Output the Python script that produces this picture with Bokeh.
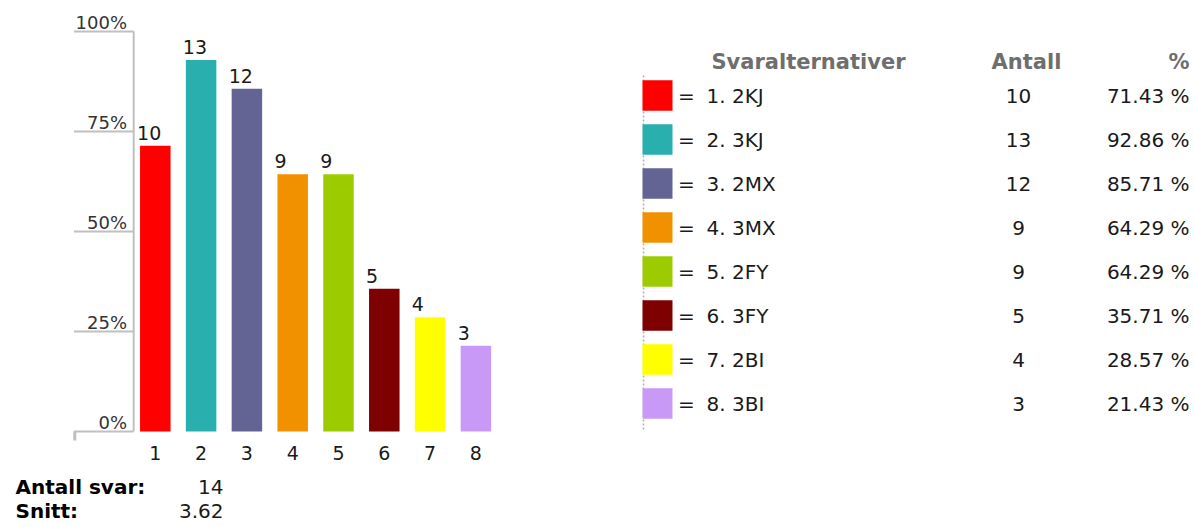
from bokeh.plotting import figure
from bokeh.models import Range1d, ColumnDataSource
from bokeh.embed import file_html
from bokeh.resources import INLINE
from bokeh.core.properties import value

# ---------------- data ----------------
categories = [1, 2, 3, 4, 5, 6, 7, 8]
option_labels = ["1. 2KJ", "2. 3KJ", "3. 2MX", "4. 3MX", "5. 2FY", "6. 3FY", "7. 2BI", "8. 3BI"]
counts = [10, 13, 12, 9, 9, 5, 4, 3]
percents = [71.43, 92.86, 85.71, 64.29, 64.29, 35.71, 28.57, 21.43]
colors = ["#ff0000", "#2aafaf", "#646494", "#f29100", "#9ccc00", "#7f0000", "#ffff00", "#c999f8"]
y_ticks = [0, 25, 50, 75, 100]
y_tick_labels = ["0%", "25%", "50%", "75%", "100%"]
header_labels = ["Svaralternativer", "Antall", "%"]
summary_labels = ["Antall svar:", "Snitt:"]
summary_values = ["14", "3.62"]

# ---------------- layout helpers ----------------
W, H = 1190, 524
X0_PAGE, STEP = 154.8, 45.8       # x of category 1, px per category
Y0_PAGE, PPU = 431.0, 4.0         # y of 0 %, px per percent
ROW0_PAGE, ROW_STEP = 95.0, 44.0  # legend row 1 centre, px per row


def px_to_x(px):
    return 1 + (px - X0_PAGE) / STEP


def py_to_y(py):
    return (Y0_PAGE - py) / PPU


def py_to_row(py):
    return 1 + (py - ROW0_PAGE) / ROW_STEP


FONT = value("DejaVu Sans")

p = figure(width=W, height=H,
           x_range=Range1d(px_to_x(0), px_to_x(W)),
           y_range=Range1d(py_to_y(H), py_to_y(0)),
           output_backend="svg", toolbar_location=None,
           x_axis_type=None, y_axis_type=None, min_border=0,
           outline_line_color=None, background_fill_color="white",
           border_fill_color="white")
p.extra_x_ranges = {"lx": Range1d(0, W)}
p.extra_y_ranges = {"ly": Range1d(py_to_row(H), py_to_row(0))}

# ---------------- bar chart ----------------
src = ColumnDataSource(dict(
    x=categories, top=percents, color=colors,
    lab=[str(c) for c in counts],
    lab_x=[c - 15.25 / STEP - 3.0 / STEP for c in categories],
    lab_y=[v + 13.0 / PPU for v in percents],
    xt=[str(c) for c in categories],
))

axis_x = px_to_x(133.2)
tick_left = px_to_x(73.5)
grey = "#c0c0c0"

# y axis (drawn from tick values)
p.segment(x0=[tick_left] * len(y_ticks), y0=y_ticks, x1=[axis_x] * len(y_ticks), y1=y_ticks,
          line_color=grey, line_width=2)
p.segment(x0=[axis_x], y0=[min(y_ticks)], x1=[axis_x], y1=[max(y_ticks)],
          line_color=grey, line_width=2)
p.segment(x0=[tick_left + 0.8 / STEP], y0=[min(y_ticks)], x1=[tick_left + 0.8 / STEP],
          y1=[min(y_ticks) - 9.0 / PPU], line_color=grey, line_width=3)
p.text(x=[px_to_x(126.5)] * len(y_ticks), y=[t + 9.0 / PPU for t in y_ticks], text=y_tick_labels,
       text_align="right", text_baseline="middle", text_font=FONT,
       text_font_size="18px", text_color="#333333")

p.vbar(x="x", top="top", bottom=0, width=30.5 / STEP, fill_color="color", line_color=None, source=src)

p.text(x="lab_x", y="lab_y", text="lab", source=src, text_align="left",
       text_baseline="middle", text_font=FONT, text_font_size="19px", text_color="#1a1a1a")
p.text(x="x", y=py_to_y(452.7), text="xt", source=src, text_align="center",
       text_baseline="middle", text_font=FONT, text_font_size="19px", text_color="#1a1a1a")

# summary lines
sum_y = [py_to_y(486.0), py_to_y(510.5)]
p.text(x=[px_to_x(15)] * 2, y=sum_y, text=summary_labels,
       text_align="left", text_baseline="middle", text_font=FONT,
       text_font_size="20px", text_font_style="bold", text_color="#000000")
p.text(x=[px_to_x(223)] * 2, y=sum_y, text=summary_values,
       text_align="right", text_baseline="middle", text_font=FONT,
       text_font_size="20px", text_color="#1a1a1a")

# ---------------- legend table ----------------
lsrc = ColumnDataSource(dict(
    row=categories, color=colors, lab=option_labels,
    cnt=[str(c) for c in counts],
    pct=["%.2f %%" % v for v in percents],
    eq=["="] * len(categories),
))
p.segment(x0=[643], y0=[py_to_row(75)], x1=[643], y1=[py_to_row(430)],
          line_color="#b0b0b0", line_width=1.5, line_dash="2 2",
          x_range_name="lx", y_range_name="ly")
p.rect(x=657, y="row", width=30, height=30.5 / ROW_STEP, fill_color="color", line_color=None,
       source=lsrc, x_range_name="lx", y_range_name="ly")
common = dict(source=lsrc, x_range_name="lx", y_range_name="ly", text_baseline="middle",
              text_font=FONT, text_font_size="20px", text_color="#1a1a1a")
p.text(x=686, y="row", text="eq", text_align="center", **common)
p.text(x=706, y="row", text="lab", text_align="left", **common)
p.text(x=1018, y="row", text="cnt", text_align="center", **common)
p.text(x=1189, y="row", text="pct", text_align="right", **common)

hy = py_to_row(61)
p.text(x=[711, 1026, 1189], y=[hy] * 3, text=header_labels,
       text_align=["left", "center", "right"], text_baseline="middle", text_font=FONT,
       text_font_size="21px", text_font_style="bold", text_color="#6e6e6e",
       x_range_name="lx", y_range_name="ly")

open("out.html", "w").write(file_html(p, INLINE))
